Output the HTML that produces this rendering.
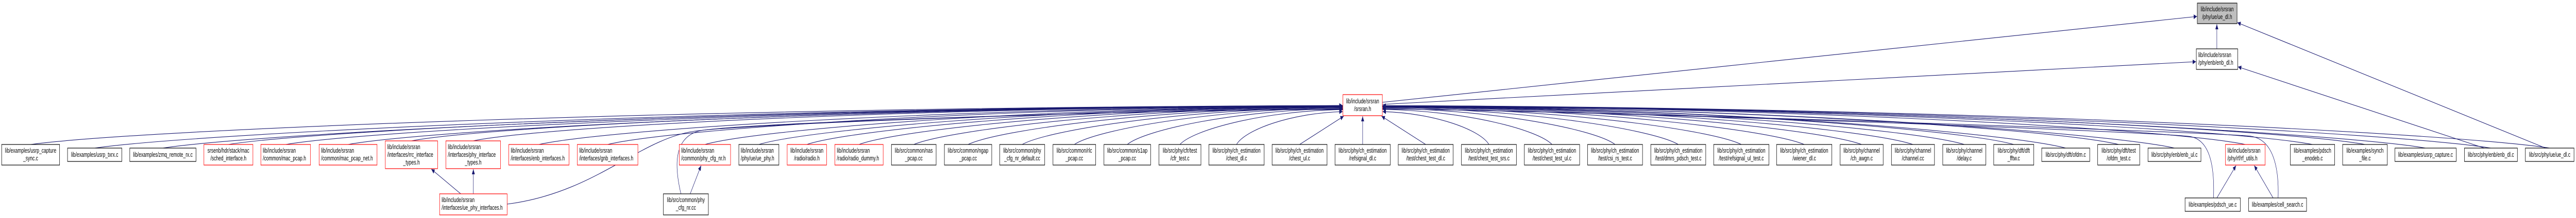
<!DOCTYPE html>
<html><head><meta charset="utf-8"><style>
html,body{margin:0;padding:0;background:#fff;width:100%;height:100%;overflow:hidden}
svg{display:block;width:100vw;height:100vh;overflow:hidden}
svg text{font-family:"Liberation Sans",Arial,sans-serif;font-size:13.3px;fill:#000}
</style></head><body>
<svg id="g" xmlns="http://www.w3.org/2000/svg" viewBox="0 0 7782 424" preserveAspectRatio="none">
<defs><marker id="a" markerUnits="userSpaceOnUse" markerWidth="11" markerHeight="9" refX="10" refY="4.5" orient="auto"><path d="M0,0 L10,4.5 L0,9 z" fill="#191970"/></marker></defs>
<g id="edges" fill="none" stroke="#191970" stroke-width="1.1">
<path d="M1392,377 L1303,329" marker-end="url(#a)"/>
<path d="M1430,377 L1430,329" marker-end="url(#a)"/>
<path d="M2085,377 L2118,322" marker-end="url(#a)"/>
<path d="M6697,385 L6755,322" marker-end="url(#a)"/>
<path d="M6867,385 L6810,322" marker-end="url(#a)"/>
<path d="M6697,95 L6697,47" marker-end="url(#a)"/>
<path d="M4176,199 L6637,32" marker-end="url(#a)"/>
<path d="M4176,203 L6634,120" marker-end="url(#a)"/>
<path d="M7690,288 L6759,44" marker-end="url(#a)"/>
<path d="M7505,288 L6761,130" marker-end="url(#a)"/>
<path d="M1532,397 C1800,375 1930,270 2100,255 S3500,212 4057,212" marker-end="url(#a)"/>
<path d="M2057,377 C2040,330 2030,270 2110,255 S3500,212 4057,213" marker-end="url(#a)"/>
<path d="M6687,385 C6690,330 6680,275 6620,266 S4800,215 4176,212" marker-end="url(#a)"/>
<path d="M6882,385 C6885,330 6870,272 6800,265 S4800,215 4176,212" marker-end="url(#a)"/>
</g>
<g stroke-width="1.2">
<rect x="4057" y="184" width="119" height="41" fill="#fff" stroke="#f00"/>
<text x="4116.5" y="201" text-anchor="middle">lib/include/srsran</text><text x="4116.5" y="216" text-anchor="middle">/srsran.h</text>
<rect x="6638" y="6" width="120" height="40" fill="#bfbfbf" stroke="#000"/>
<text x="6698" y="22" text-anchor="middle">lib/include/srsran</text><text x="6698" y="37" text-anchor="middle">/phy/ue/ue_dl.h</text>
<rect x="6635" y="95" width="125" height="40" fill="#fff" stroke="#000"/>
<text x="6641" y="111">lib/include/srsran</text><text x="6641" y="126">/phy/enb/enb_dl.h</text>
<rect x="1328" y="377" width="204" height="41" fill="#fff" stroke="#f00"/>
<text x="1334" y="393">lib/include/srsran</text><text x="1334" y="408">/interfaces/ue_phy_interfaces.h</text>
<rect x="2004" y="377" width="136" height="41" fill="#fff" stroke="#000"/>
<text x="2072" y="393" text-anchor="middle">lib/src/common/phy</text><text x="2072" y="408" text-anchor="middle">_cfg_nr.cc</text>
<rect x="6601" y="385" width="167" height="26" fill="#fff" stroke="#000"/>
<text x="6684.5" y="402" text-anchor="middle">lib/examples/pdsch_ue.c</text>
<rect x="6793" y="385" width="175" height="26" fill="#fff" stroke="#000"/>
<text x="6880.5" y="402" text-anchor="middle">lib/examples/cell_search.c</text>
<rect x="5" y="281" width="175" height="40" fill="#fff" stroke="#000"/><text x="92.5" y="297" text-anchor="middle">lib/examples/usrp_capture</text><text x="92.5" y="312" text-anchor="middle">_sync.c</text>
<rect x="204" y="288" width="164" height="26" fill="#fff" stroke="#000"/><text x="286" y="305" text-anchor="middle">lib/examples/usrp_txrx.c</text>
<rect x="392" y="288" width="200" height="26" fill="#fff" stroke="#000"/><text x="492" y="305" text-anchor="middle">lib/examples/zmq_remote_rx.c</text>
<rect x="616" y="281" width="148" height="40" fill="#fff" stroke="#f00"/><text x="690" y="297" text-anchor="middle">srsenb/hdr/stack/mac</text><text x="690" y="312" text-anchor="middle">/sched_interface.h</text>
<rect x="788" y="281" width="150" height="40" fill="#fff" stroke="#f00"/><text x="794" y="297">lib/include/srsran</text><text x="794" y="312">/common/mac_pcap.h</text>
<rect x="964" y="281" width="175" height="40" fill="#fff" stroke="#f00"/><text x="970" y="297">lib/include/srsran</text><text x="970" y="312">/common/mac_pcap_net.h</text>
<rect x="1164" y="274" width="158" height="54" fill="#fff" stroke="#f00"/><text x="1170" y="290">lib/include/srsran</text><text x="1170" y="305">/interfaces/rrc_interface</text><text x="1243" y="320" text-anchor="middle">_types.h</text>
<rect x="1347" y="274" width="165" height="54" fill="#fff" stroke="#f00"/><text x="1353" y="290">lib/include/srsran</text><text x="1353" y="305">/interfaces/phy_interface</text><text x="1429.5" y="320" text-anchor="middle">_types.h</text>
<rect x="1537" y="281" width="182" height="40" fill="#fff" stroke="#f00"/><text x="1543" y="297">lib/include/srsran</text><text x="1543" y="312">/interfaces/enb_interfaces.h</text>
<rect x="1744" y="281" width="183" height="40" fill="#fff" stroke="#f00"/><text x="1750" y="297">lib/include/srsran</text><text x="1750" y="312">/interfaces/gnb_interfaces.h</text>
<rect x="2052" y="281" width="155" height="40" fill="#fff" stroke="#f00"/><text x="2058" y="297">lib/include/srsran</text><text x="2058" y="312">/common/phy_cfg_nr.h</text>
<rect x="2232" y="281" width="121" height="40" fill="#fff" stroke="#000"/><text x="2238" y="297">lib/include/srsran</text><text x="2238" y="312">/phy/ue/ue_phy.h</text>
<rect x="2378" y="281" width="119" height="40" fill="#fff" stroke="#f00"/><text x="2437.5" y="297" text-anchor="middle">lib/include/srsran</text><text x="2437.5" y="312" text-anchor="middle">/radio/radio.h</text>
<rect x="2522" y="281" width="146" height="40" fill="#fff" stroke="#f00"/><text x="2528" y="297">lib/include/srsran</text><text x="2528" y="312">/radio/radio_dummy.h</text>
<rect x="2693" y="281" width="135" height="40" fill="#fff" stroke="#000"/><text x="2760.5" y="297" text-anchor="middle">lib/src/common/nas</text><text x="2760.5" y="312" text-anchor="middle">_pcap.cc</text>
<rect x="2853" y="281" width="143" height="40" fill="#fff" stroke="#000"/><text x="2924.5" y="297" text-anchor="middle">lib/src/common/ngap</text><text x="2924.5" y="312" text-anchor="middle">_pcap.cc</text>
<rect x="3020" y="281" width="136" height="40" fill="#fff" stroke="#000"/><text x="3088" y="297" text-anchor="middle">lib/src/common/phy</text><text x="3088" y="312" text-anchor="middle">_cfg_nr_default.cc</text>
<rect x="3181" y="281" width="129" height="40" fill="#fff" stroke="#000"/><text x="3245.5" y="297" text-anchor="middle">lib/src/common/rlc</text><text x="3245.5" y="312" text-anchor="middle">_pcap.cc</text>
<rect x="3335" y="281" width="141" height="40" fill="#fff" stroke="#000"/><text x="3405.5" y="297" text-anchor="middle">lib/src/common/s1ap</text><text x="3405.5" y="312" text-anchor="middle">_pcap.cc</text>
<rect x="3501" y="281" width="127" height="40" fill="#fff" stroke="#000"/><text x="3564.5" y="297" text-anchor="middle">lib/src/phy/cfr/test</text><text x="3564.5" y="312" text-anchor="middle">/cfr_test.c</text>
<rect x="3652" y="281" width="167" height="40" fill="#fff" stroke="#000"/><text x="3735.5" y="297" text-anchor="middle">lib/src/phy/ch_estimation</text><text x="3735.5" y="312" text-anchor="middle">/chest_dl.c</text>
<rect x="3843" y="281" width="166" height="40" fill="#fff" stroke="#000"/><text x="3926" y="297" text-anchor="middle">lib/src/phy/ch_estimation</text><text x="3926" y="312" text-anchor="middle">/chest_ul.c</text>
<rect x="4033" y="281" width="167" height="40" fill="#fff" stroke="#000"/><text x="4116.5" y="297" text-anchor="middle">lib/src/phy/ch_estimation</text><text x="4116.5" y="312" text-anchor="middle">/refsignal_dl.c</text>
<rect x="4224" y="281" width="166" height="40" fill="#fff" stroke="#000"/><text x="4307" y="297" text-anchor="middle">lib/src/phy/ch_estimation</text><text x="4307" y="312" text-anchor="middle">/test/chest_test_dl.c</text>
<rect x="4415" y="281" width="166" height="40" fill="#fff" stroke="#000"/><text x="4498" y="297" text-anchor="middle">lib/src/phy/ch_estimation</text><text x="4498" y="312" text-anchor="middle">/test/chest_test_srs.c</text>
<rect x="4605" y="281" width="167" height="40" fill="#fff" stroke="#000"/><text x="4688.5" y="297" text-anchor="middle">lib/src/phy/ch_estimation</text><text x="4688.5" y="312" text-anchor="middle">/test/chest_test_ul.c</text>
<rect x="4796" y="281" width="166" height="40" fill="#fff" stroke="#000"/><text x="4879" y="297" text-anchor="middle">lib/src/phy/ch_estimation</text><text x="4879" y="312" text-anchor="middle">/test/csi_rs_test.c</text>
<rect x="4987" y="281" width="166" height="40" fill="#fff" stroke="#000"/><text x="5070" y="297" text-anchor="middle">lib/src/phy/ch_estimation</text><text x="5070" y="312" text-anchor="middle">/test/dmrs_pdsch_test.c</text>
<rect x="5177" y="281" width="167" height="40" fill="#fff" stroke="#000"/><text x="5260.5" y="297" text-anchor="middle">lib/src/phy/ch_estimation</text><text x="5260.5" y="312" text-anchor="middle">/test/refsignal_ul_test.c</text>
<rect x="5367" y="281" width="167" height="40" fill="#fff" stroke="#000"/><text x="5450.5" y="297" text-anchor="middle">lib/src/phy/ch_estimation</text><text x="5450.5" y="312" text-anchor="middle">/wiener_dl.c</text>
<rect x="5559" y="281" width="130" height="40" fill="#fff" stroke="#000"/><text x="5624" y="297" text-anchor="middle">lib/src/phy/channel</text><text x="5624" y="312" text-anchor="middle">/ch_awgn.c</text>
<rect x="5714" y="281" width="130" height="40" fill="#fff" stroke="#000"/><text x="5779" y="297" text-anchor="middle">lib/src/phy/channel</text><text x="5779" y="312" text-anchor="middle">/channel.cc</text>
<rect x="5869" y="281" width="130" height="40" fill="#fff" stroke="#000"/><text x="5934" y="297" text-anchor="middle">lib/src/phy/channel</text><text x="5934" y="312" text-anchor="middle">/delay.c</text>
<rect x="6023" y="281" width="121" height="40" fill="#fff" stroke="#000"/><text x="6083.5" y="297" text-anchor="middle">lib/src/phy/dft/dft</text><text x="6083.5" y="312" text-anchor="middle">_fftw.c</text>
<rect x="6168" y="288" width="145" height="26" fill="#fff" stroke="#000"/><text x="6240.5" y="305" text-anchor="middle">lib/src/phy/dft/ofdm.c</text>
<rect x="6337" y="281" width="127" height="40" fill="#fff" stroke="#000"/><text x="6400.5" y="297" text-anchor="middle">lib/src/phy/dft/test</text><text x="6400.5" y="312" text-anchor="middle">/ofdm_test.c</text>
<rect x="6489" y="288" width="160" height="26" fill="#fff" stroke="#000"/><text x="6569" y="305" text-anchor="middle">lib/src/phy/enb/enb_ul.c</text>
<rect x="6723" y="281" width="120" height="40" fill="#fff" stroke="#f00"/><text x="6729" y="297">lib/include/srsran</text><text x="6729" y="312">/phy/rf/rf_utils.h</text>
<rect x="6919" y="281" width="134" height="40" fill="#fff" stroke="#000"/><text x="6986" y="297" text-anchor="middle">lib/examples/pdsch</text><text x="6986" y="312" text-anchor="middle">_enodeb.c</text>
<rect x="7077" y="281" width="135" height="40" fill="#fff" stroke="#000"/><text x="7144.5" y="297" text-anchor="middle">lib/examples/synch</text><text x="7144.5" y="312" text-anchor="middle">_file.c</text>
<rect x="7235" y="288" width="185" height="26" fill="#fff" stroke="#000"/><text x="7327.5" y="305" text-anchor="middle">lib/examples/usrp_capture.c</text>
<rect x="7445" y="288" width="160" height="26" fill="#fff" stroke="#000"/><text x="7525" y="305" text-anchor="middle">lib/src/phy/enb/enb_dl.c</text>
<rect x="7629" y="288" width="147" height="26" fill="#fff" stroke="#000"/><text x="7702.5" y="305" text-anchor="middle">lib/src/phy/ue/ue_dl.c</text>
</g>
</svg>
<script>
(function(){
var N=[[5,180,281],[204,368,288],[392,592,288],[616,764,281],[788,938,281],[964,1139,281],[1164,1322,274],[1347,1512,274],[1537,1719,281],[1744,1927,281],[2052,2207,281],[2232,2353,281],[2378,2497,281],[2522,2668,281],[2693,2828,281],[2853,2996,281],[3020,3156,281],[3181,3310,281],[3335,3476,281],[3501,3628,281],[3652,3819,281],[3843,4009,281],[4033,4200,281],[4224,4390,281],[4415,4581,281],[4605,4772,281],[4796,4962,281],[4987,5153,281],[5177,5344,281],[5367,5534,281],[5559,5689,281],[5714,5844,281],[5869,5999,281],[6023,6144,281],[6168,6313,288],[6337,6464,281],[6489,6649,288],[6723,6843,281],[6919,7053,281],[7077,7212,281],[7235,7420,288],[7445,7605,288],[7629,7776,288]];
var g=document.getElementById('edges'),ns='http://www.w3.org/2000/svg',C=4116.5;
N.forEach(function(n){
 var cx=(n[0]+n[1])/2,y0=n[2],dx=cx-C,ex,ey,d;
 if(Math.abs(dx)<250){ex=C+dx*0.3;ey=226;d='M'+cx+','+y0+' L'+ex+','+ey;}
 else{ex=dx<0?4056:4177;ey=Math.min(219,204+10*(500/Math.abs(dx)));
  var c1x=cx+(ex-cx)*0.08,c1y=y0-28,c2x=cx+(ex-cx)*0.5,c2y=ey+3;
  d='M'+cx+','+y0+' C'+c1x+','+c1y+' '+c2x+','+c2y+' '+ex+','+ey;}
 var p=document.createElementNS(ns,'path');p.setAttribute('d',d);p.setAttribute('marker-end','url(#a)');g.appendChild(p);
});
})();
</script>
</body></html>
